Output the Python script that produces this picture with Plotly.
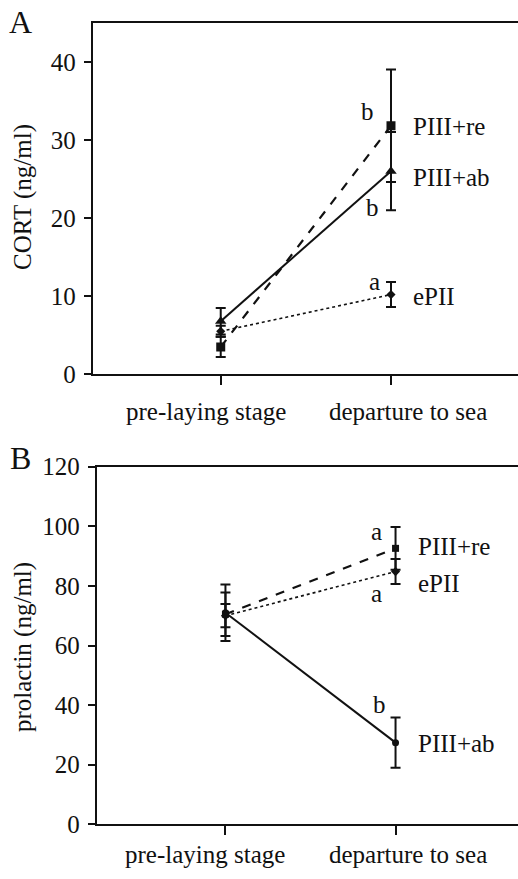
import plotly.graph_objects as go

# ---------------- data ----------------
stages = ["pre-laying stage", "departure to sea"]
groups = ["PIII+re", "PIII+ab", "ePII"]

# Panel A: CORT (ng/ml)
cort_re = [3.5, 31.8]
cort_re_err = [1.3, 7.2]
cort_ab = [6.8, 26.0]
cort_ab_err = [1.7, 5.0]
cort_epii = [5.5, 10.2]
cort_epii_err = [0.7, 1.6]
cort_letters = ["b", "b", "a"]
cort_ticks = [0, 10, 20, 30, 40]

# Panel B: prolactin (ng/ml)
prl_re = [70.5, 92.6]
prl_re_err = [7.3, 7.2]
prl_ab = [71.0, 27.4]
prl_ab_err = [9.5, 8.4]
prl_epii = [70.0, 84.8]
prl_epii_err = [3.9, 4.2]
prl_letters = ["a", "b", "a"]
prl_ticks = [0, 20, 40, 60, 80, 100, 120]

# ---------------- style ----------------
W, H = 518, 879
FONT = "Liberation Serif, Times New Roman, serif"
FS = 25
BLACK = "#111111"

line_styles = {
    "PIII+re": dict(dash="dash", width=2.2),
    "PIII+ab": dict(dash="solid", width=2),
    "ePII": dict(dash="dot", width=1.6),
}
markers_a = {
    "PIII+re": dict(symbol="square", size=9),
    "PIII+ab": dict(symbol="triangle-up", size=10),
    "ePII": dict(symbol="diamond", size=7),
}
markers_b = {
    "PIII+re": dict(symbol="square", size=7),
    "PIII+ab": dict(symbol="circle", size=7),
    "ePII": dict(symbol="diamond", size=7),
}
# label offsets (px) relative to departure point: (name yshift, letter xshift, letter yshift)
offs_a = {"PIII+re": (-1, -23, 14), "PIII+ab": (-6, -18, -36), "ePII": (-2, -16, 13)}
offs_b = {"PIII+re": (2, -19, 17), "PIII+ab": (-1, -16, 38), "ePII": (-12, -19, -22)}
# category label placement: (xshift per stage, centre y in px)
catlab_a = ([-15, 17], 411)
catlab_b = ([-20, 12], 854)

fig = go.Figure()

def add_panel(xa, ya, series, markers, offs, letters, catlab):
    anns = []
    for (name, vals, errs), letter in zip(series, letters):
        fig.add_trace(go.Scatter(
            x=stages, y=vals, xaxis=xa, yaxis=ya, mode="lines+markers",
            line=dict(color=BLACK, **line_styles[name]),
            marker=dict(color=BLACK, **markers[name]),
            error_y=dict(type="data", array=errs, visible=True, color=BLACK,
                         thickness=2, width=5),
            showlegend=False, name=name,
        ))
        ny, lx, ly = offs[name]
        anns.append(dict(x=stages[1], y=vals[1], xref=xa, yref=ya, text=name,
                         showarrow=False, xanchor="left", xshift=20, yshift=ny,
                         font=dict(family=FONT, size=FS, color=BLACK)))
        anns.append(dict(x=stages[1], y=vals[1], xref=xa, yref=ya, text=letter,
                         showarrow=False, xanchor="center", xshift=lx, yshift=ly,
                         font=dict(family=FONT, size=FS, color=BLACK)))
    shifts, ypx = catlab
    for st, sh in zip(stages, shifts):
        anns.append(dict(x=st, y=1 - ypx / H, xref=xa, yref="paper", text=st,
                         showarrow=False, xanchor="center", yanchor="middle",
                         xshift=sh, font=dict(family=FONT, size=FS, color=BLACK)))
    return anns

anns = []
anns += add_panel("x", "y",
                  [("PIII+re", cort_re, cort_re_err),
                   ("PIII+ab", cort_ab, cort_ab_err),
                   ("ePII", cort_epii, cort_epii_err)],
                  markers_a, offs_a, cort_letters, catlab_a)
anns += add_panel("x2", "y2",
                  [("PIII+re", prl_re, prl_re_err),
                   ("PIII+ab", prl_ab, prl_ab_err),
                   ("ePII", prl_epii, prl_epii_err)],
                  markers_b, offs_b, prl_letters, catlab_b)

# axis titles and panel letters
common_ann = dict(xref="paper", yref="paper", showarrow=False,
                  xanchor="center", yanchor="middle")
anns += [
    dict(x=23 / W, y=1 - 197 / H, text="CORT (ng/ml)", textangle=-90,
         font=dict(family=FONT, size=FS, color=BLACK), **common_ann),
    dict(x=23 / W, y=1 - 647 / H, text="prolactin (ng/ml)", textangle=-90,
         font=dict(family=FONT, size=FS, color=BLACK), **common_ann),
    dict(x=20 / W, y=1 - 22 / H, text="A",
         font=dict(family=FONT, size=32, color=BLACK), **common_ann),
    dict(x=20 / W, y=1 - 458 / H, text="B",
         font=dict(family=FONT, size=32, color=BLACK), **common_ann),
]

xcommon = dict(showline=True, linecolor=BLACK, linewidth=2, mirror=True,
               ticks="outside", ticklen=9, tickwidth=2, tickcolor=BLACK,
               showgrid=False, zeroline=False, type="category", automargin=False,
               showticklabels=False, categoryarray=stages, categoryorder="array")
ycommon = dict(showline=True, linecolor=BLACK, linewidth=2, mirror=False,
               ticks="outside", ticklen=7, tickwidth=2, tickcolor=BLACK,
               showgrid=False, zeroline=False, automargin=False,
               tickfont=dict(family=FONT, size=FS, color=BLACK),
               ticklabelstandoff=3)

fig.update_layout(
    width=W, height=H, margin=dict(l=0, r=0, t=0, b=0, autoexpand=False),
    paper_bgcolor="white", plot_bgcolor="white",
    xaxis=dict(domain=[92.7 / W, 1], range=[-0.752, 1.746], anchor="y", **xcommon),
    yaxis=dict(domain=[1 - 374.3 / H, 1 - 22.7 / H], range=[0, 45], anchor="x",
               tickvals=cort_ticks, **ycommon),
    xaxis2=dict(domain=[96.7 / W, 1], range=[-0.757, 1.72], anchor="y2", **xcommon),
    yaxis2=dict(domain=[1 - 824.3 / H, 1 - 466.7 / H], range=[0, 120], anchor="x2",
                tickvals=prl_ticks, **ycommon),
    annotations=anns,
)

fig.write_html("out.html")
